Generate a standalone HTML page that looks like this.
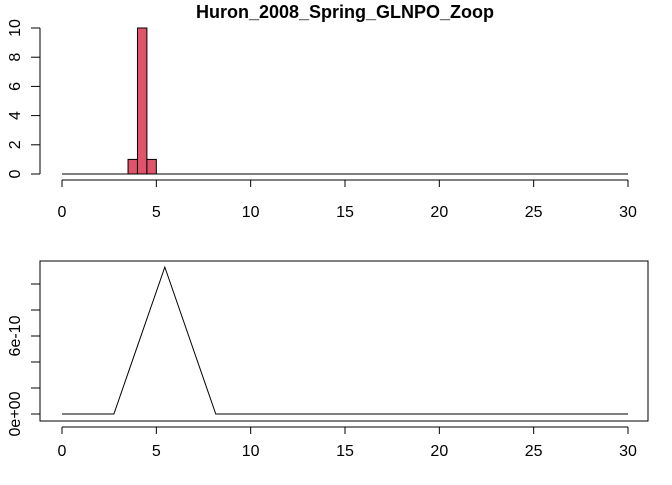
<!DOCTYPE html>
<html><head><meta charset="utf-8"><style>body{margin:0;background:#fff}svg{font-family:"Liberation Sans",Arial,sans-serif}</style></head>
<body>
<svg id="c" width="672" height="480">
<text x="345" y="18" text-anchor="middle" font-weight="bold" font-size="18">Huron_2008_Spring_GLNPO_Zoop</text>
</svg>
<script>
const histBinStarts=[3.5,4,4.5];
const histCounts=[1,10,1];
const histYTicks=[0,2,4,6,8,10];
const xTicks=[0,5,10,15,20,25,30];
const densX=[0,2.75,5.45,8.15,30];
const densY=[0,0,1.13e-9,0,0];
const densYTicks=[0,2e-10,4e-10,6e-10,8e-10,1e-9];
const densYLabels={0:"0e+00",3:"6e-10"};
const binW=0.5;
const NS="http://www.w3.org/2000/svg",svg=document.getElementById('c');
function mk(t,a,p){const e=document.createElementNS(NS,t);for(const k in a)e.setAttribute(k,a[k]);(p||svg).appendChild(e);return e;}
const xs=v=>62+v*(566/30);
const hy=v=>174-v*14.6;
const dy=v=>414-v/2e-10*26;
const FS=16;
const g1=mk('g',{});


const base=mk('line',{x1:xs(0),x2:xs(30),y1:hy(0),y2:hy(0),stroke:'#000'},g1);


histBinStarts.forEach((b,i)=>{const r=mk('rect',{x:xs(b),y:hy(histCounts[i]),width:xs(b+binW)-xs(b),height:hy(0)-hy(histCounts[i]),fill:'#DF536B',stroke:'#000'},g1);

});
mk('line',{x1:40,x2:40,y1:hy(0),y2:hy(10),stroke:'#000'},g1);
histYTicks.forEach(t=>{mk('line',{x1:31,x2:40,y1:hy(t),y2:hy(t),stroke:'#000'},g1);
const tx=mk('text',{x:0,y:0,'font-size':FS,'text-anchor':'middle',transform:`translate(20,${hy(t)}) rotate(-90)`},g1);tx.textContent=t;

});
function xAxis(y,ly,g){mk('line',{x1:xs(0),x2:xs(30),y1:y,y2:y,stroke:'#000'},g);
xTicks.forEach(t=>{mk('line',{x1:xs(t),x2:xs(t),y1:y,y2:y+7,stroke:'#000'},g);
const tx=mk('text',{x:xs(t),y:ly,'font-size':FS,'text-anchor':'middle'},g);tx.textContent=t;

});}
xAxis(180,217,g1);
const g2=mk('g',{});


const box=mk('rect',{x:40,y:261,width:608,height:160,fill:'none',stroke:'#000'},g2);


const ln=mk('polyline',{points:densX.map((x,i)=>xs(x)+','+dy(densY[i])).join(' '),fill:'none',stroke:'#000'},g2);


mk('line',{x1:40,x2:40,y1:dy(0),y2:dy(1e-9),stroke:'#000'},g2);
densYTicks.forEach((t,i)=>{mk('line',{x1:31,x2:40,y1:dy(t),y2:dy(t),stroke:'#000'},g2);
if(densYLabels[i]){const tx=mk('text',{x:0,y:0,'font-size':FS,'text-anchor':'middle',transform:`translate(20,${dy(t)}) rotate(-90)`},g2);tx.textContent=densYLabels[i];

}});
xAxis(427,456,g2);
</script>
</body></html>
